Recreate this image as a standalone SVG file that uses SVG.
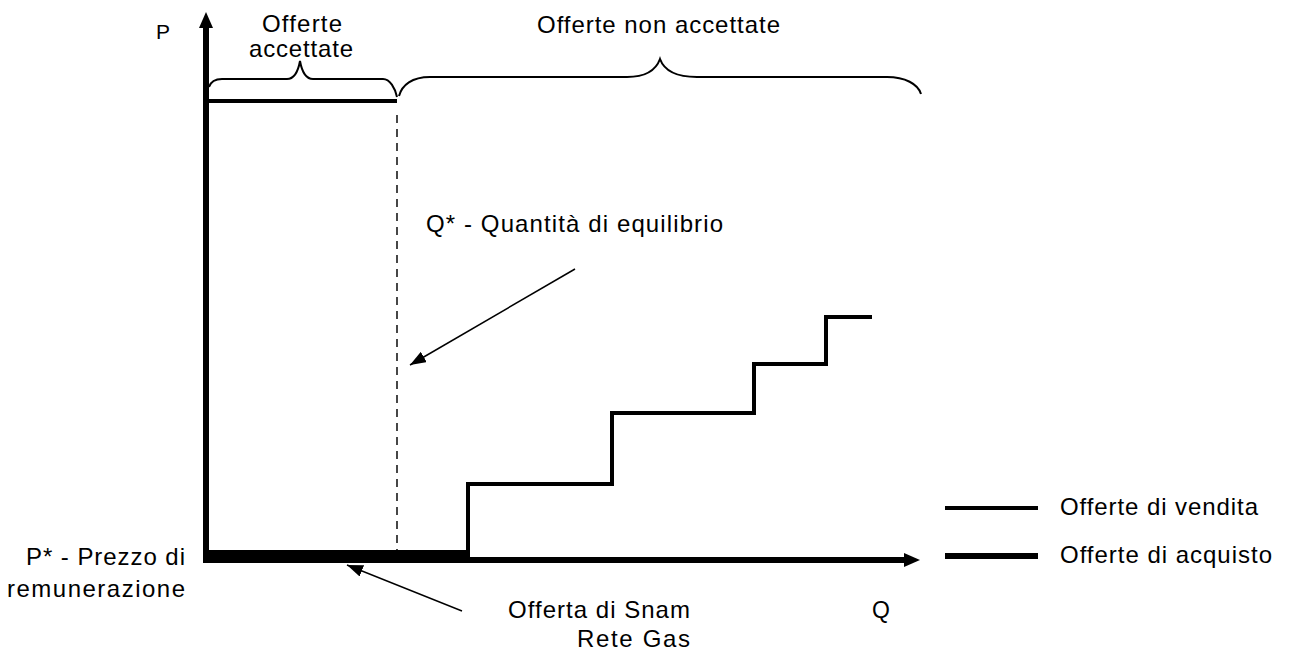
<svg xmlns="http://www.w3.org/2000/svg" width="1294" height="655" viewBox="0 0 1294 655">
<style>
  text { font-family: "Liberation Sans", Arial, sans-serif; font-size: 24px; fill: #000; }
  .thin { stroke: #000; stroke-width: 1.5; fill: none; }
  .brace { stroke: #000; stroke-width: 2; fill: none; }
  .axis { stroke: #000; stroke-width: 6; fill: none; }
  .curve { stroke: #000; stroke-width: 4; fill: none; stroke-linejoin: miter; }
</style>
<defs>
  <marker id="arr" markerUnits="userSpaceOnUse" markerWidth="16" markerHeight="12" refX="16" refY="6" orient="auto">
    <path d="M0,0 L16,6 L0,12 z" fill="#000"/>
  </marker>
</defs>
<rect width="1294" height="655" fill="#fff"/>

<g id="axes">
  <line class="axis" x1="206" y1="563" x2="206" y2="26"/>
  <polygon points="206,12 199,28 213,28" fill="#000"/>
  <line class="axis" x1="205" y1="560" x2="906" y2="560"/>
  <polygon points="920,560 904,553 904,567" fill="#000"/>
  <text x="156" y="39" style="font-size:21px">P</text>
  <text x="872" y="618" style="font-size:23px">Q</text>
</g>

<g id="demand">
  <line class="curve" x1="206" y1="101" x2="397" y2="101"/>
</g>

<g id="equilibrium-quantity">
  <line x1="397" y1="115" x2="397" y2="550" stroke="#333" stroke-width="1.8" stroke-dasharray="8 6"/>
</g>

<g id="supply">
  <path class="curve" d="M468,560 L468,484 L612,484 L612,413 L754,413 L754,364 L826,364 L826,317 L872,317"/>
</g>

<g id="snam-offer">
  <rect x="205" y="550" width="263" height="13" fill="#000"/>
</g>

<g id="brace-accepted">
  <path class="brace" d="M209,87 C211,81 215,79 222,79 L287,79 C294,79 298,72 300,61 C302,72 306,79 313,79 L383,79 C390,79 395,88 397,97"/>
  <text x="262" y="32" textLength="80" lengthAdjust="spacing">Offerte</text>
  <text x="249" y="57" textLength="104" lengthAdjust="spacing">accettate</text>
</g>

<g id="brace-rejected">
  <path class="brace" d="M399,96 C402,85 412,77 430,77 L627,77 C645,77 656,70 660,59 C664,70 675,77 697,77 L887,77 C905,77 918,84 921,94"/>
  <text x="537" y="33" textLength="243" lengthAdjust="spacing">Offerte non accettate</text>
</g>

<g id="label-q-star">
  <text x="426" y="232" textLength="297" lengthAdjust="spacing">Q* - Quantità di equilibrio</text>
</g>

<g id="label-p-star">
  <text x="26" y="565" textLength="159" lengthAdjust="spacing">P* - Prezzo di</text>
  <text x="7" y="597" textLength="178" lengthAdjust="spacing">remunerazione</text>
</g>

<g id="label-snam">
  <text x="508" y="618" textLength="182" lengthAdjust="spacing">Offerta di Snam</text>
  <text x="577" y="647" textLength="113" lengthAdjust="spacing">Rete Gas</text>
</g>

<g id="legend">
  <line stroke="#000" stroke-width="4" x1="945" y1="508" x2="1038" y2="508"/>
  <text x="1060" y="515" textLength="198" lengthAdjust="spacing">Offerte di vendita</text>
  <line stroke="#000" stroke-width="6" x1="945" y1="556" x2="1038" y2="556"/>
  <text x="1060" y="563" textLength="212" lengthAdjust="spacing">Offerte di acquisto</text>
</g>

<g id="connectors">
  <line class="thin" x1="575" y1="269" x2="410" y2="365" marker-end="url(#arr)"/>
  <line class="thin" x1="462" y1="611" x2="347" y2="565" marker-end="url(#arr)"/>
</g>
</svg>
